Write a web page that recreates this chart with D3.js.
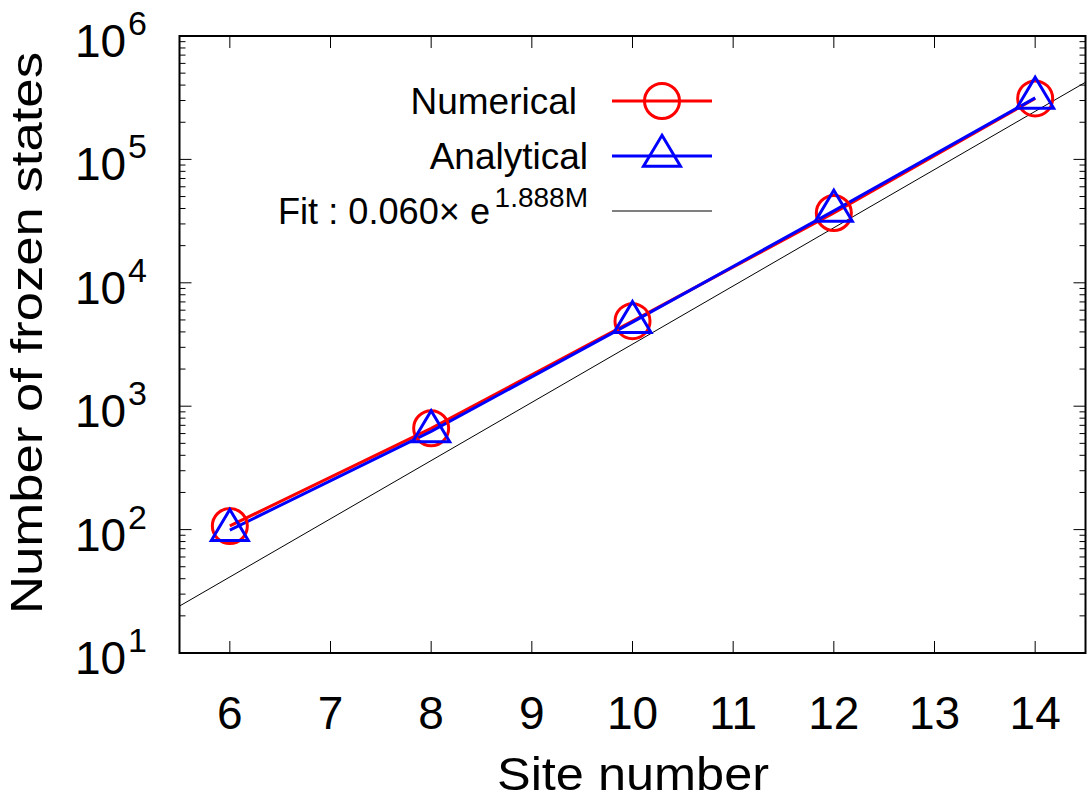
<!DOCTYPE html>
<html>
<head>
<meta charset="utf-8">
<script src="https://cdn.jsdelivr.net/npm/d3@7"></script>
<style>
  html, body { margin: 0; padding: 0; background: #fff; }
  svg { display: block; font-family: "Liberation Sans", Arial, Helvetica, sans-serif; }
</style>
</head>
<body>
<svg id="chart" width="1090" height="800"></svg>
<script>
// ---- data ----
const siteNumbers = [6, 8, 10, 12, 14];
const numerical = [107, 662, 4890, 36800, 312000];
const analytical = [99, 625, 4800, 38300, 315000];
const fitX = [5.5, 14.5];
const fitY = [24, 422000];
const xTicks = [6, 7, 8, 9, 10, 11, 12, 13, 14];
const yTickExponents = [1, 2, 3, 4, 5, 6];
const legendLabels = ["Numerical", "Analytical", "Fit : 0.060\u00d7 e"];
const fitSuperscript = "1.888M";
const xTitle = "Site number";
const yTitle = "Number of frozen states";

// ---- layout ----
const L = 179.5, R = 1085.5, T = 36, B = 653;
const svg = d3.select("#chart");
const x = d3.scaleLinear().domain([5.5, 14.5]).range([L, R]);
const y = d3.scaleLog().domain([10, 1e6]).range([B, T]);

// ticks
const tickG = svg.append("g").attr("stroke", "#000").attr("stroke-width", 1);
xTicks.forEach(t => {
  tickG.append("line").attr("x1", x(t)).attr("x2", x(t)).attr("y1", B).attr("y2", B - 12);
  tickG.append("line").attr("x1", x(t)).attr("x2", x(t)).attr("y1", T).attr("y2", T + 12);
});
yTickExponents.forEach(e => {
  const v = Math.pow(10, e);
  tickG.append("line").attr("x1", L).attr("x2", L + 12).attr("y1", y(v)).attr("y2", y(v));
  tickG.append("line").attr("x1", R).attr("x2", R - 12).attr("y1", y(v)).attr("y2", y(v));
  if (e < 6) {
    for (let m = 2; m <= 9; m++) {
      const mv = m * v;
      tickG.append("line").attr("x1", L).attr("x2", L + 6).attr("y1", y(mv)).attr("y2", y(mv));
      tickG.append("line").attr("x1", R).attr("x2", R - 6).attr("y1", y(mv)).attr("y2", y(mv));
    }
  }
});

// tick labels
svg.append("g").selectAll("text").data(xTicks).join("text")
  .attr("x", d => x(d)).attr("y", 729)
  .attr("text-anchor", "middle").attr("font-size", 46).attr("fill", "#000")
  .text(d => d);

const yl = svg.append("g").selectAll("text").data(yTickExponents).join("text")
  .attr("x", 147).attr("y", d => y(Math.pow(10, d)) + 21)
  .attr("text-anchor", "end").attr("font-size", 46).attr("fill", "#000");
yl.append("tspan").text("10");
yl.append("tspan").attr("font-size", 34).attr("dx", 2).attr("dy", -22).text(d => d);

// axis titles
svg.append("text").attr("x", 633).attr("y", 790).attr("text-anchor", "middle")
  .attr("font-size", 47).attr("textLength", 272).attr("lengthAdjust", "spacingAndGlyphs")
  .attr("fill", "#000").text(xTitle);
svg.append("text").attr("transform", "translate(42,333) rotate(-90)")
  .attr("text-anchor", "middle").attr("font-size", 45)
  .attr("textLength", 562).attr("lengthAdjust", "spacingAndGlyphs")
  .attr("fill", "#000").text(yTitle);

// clip
svg.append("clipPath").attr("id", "clip").append("rect")
  .attr("x", L).attr("y", T).attr("width", R - L).attr("height", B - T);
const plot = svg.append("g").attr("clip-path", "url(#clip)");

const line = d3.line().x(d => x(d[0])).y(d => y(d[1]));
const numData = siteNumbers.map((s, i) => [s, numerical[i]]);
const anaData = siteNumbers.map((s, i) => [s, analytical[i]]);

const triPath = (cx, cy) => {
  const h = 31, w = 37;
  return `M${cx},${cy - h * 2 / 3}L${cx + w / 2},${cy + h / 3}L${cx - w / 2},${cy + h / 3}Z`;
};

// numerical
plot.append("path").datum(numData).attr("d", line).attr("fill", "none")
  .attr("stroke", "#ff0000").attr("stroke-width", 3);
svg.append("g").selectAll("circle").data(numData).join("circle")
  .attr("cx", d => x(d[0])).attr("cy", d => y(d[1])).attr("r", 17.5)
  .attr("fill", "none").attr("stroke", "#ff0000").attr("stroke-width", 3);

// analytical
plot.append("path").datum(anaData).attr("d", line).attr("fill", "none")
  .attr("stroke", "#0000ff").attr("stroke-width", 3);
svg.append("g").selectAll("path.tri").data(anaData).join("path").attr("class", "tri")
  .attr("d", d => triPath(x(d[0]), y(d[1])))
  .attr("fill", "none").attr("stroke", "#0000ff").attr("stroke-width", 3);

// fit
plot.append("path").datum(fitX.map((v, i) => [v, fitY[i]])).attr("d", line)
  .attr("fill", "none").attr("stroke", "#000").attr("stroke-width", 1);

// legend
const lx1 = 612, lx2 = 712, lmid = 662;
const rows = [101, 156, 211];
svg.append("line").attr("x1", lx1).attr("x2", lx2).attr("y1", rows[0]).attr("y2", rows[0])
  .attr("stroke", "#ff0000").attr("stroke-width", 3);
svg.append("circle").attr("cx", lmid).attr("cy", rows[0]).attr("r", 17.5)
  .attr("fill", "none").attr("stroke", "#ff0000").attr("stroke-width", 3);
svg.append("line").attr("x1", lx1).attr("x2", lx2).attr("y1", rows[1]).attr("y2", rows[1])
  .attr("stroke", "#0000ff").attr("stroke-width", 3);
svg.append("path").attr("d", triPath(lmid, rows[1]))
  .attr("fill", "none").attr("stroke", "#0000ff").attr("stroke-width", 3);
svg.append("line").attr("x1", lx1).attr("x2", lx2).attr("y1", rows[2]).attr("y2", rows[2])
  .attr("stroke", "#000").attr("stroke-width", 1);

svg.append("text").attr("x", 577).attr("y", rows[0] + 13).attr("text-anchor", "end")
  .attr("font-size", 37).attr("fill", "#000").text(legendLabels[0]);
svg.append("text").attr("x", 588).attr("y", rows[1] + 13).attr("text-anchor", "end")
  .attr("font-size", 37).attr("fill", "#000").text(legendLabels[1]);
svg.append("text").attr("x", 278).attr("y", rows[2] + 13).attr("text-anchor", "start")
  .attr("font-size", 37).attr("textLength", 212).attr("lengthAdjust", "spacingAndGlyphs")
  .attr("fill", "#000").text(legendLabels[2]);
svg.append("text").attr("x", 588).attr("y", rows[2] - 4).attr("text-anchor", "end")
  .attr("font-size", 28).attr("fill", "#000").text(fitSuperscript);

// border
svg.append("rect").attr("x", L).attr("y", T).attr("width", R - L).attr("height", B - T)
  .attr("fill", "none").attr("stroke", "#000").attr("stroke-width", 2);
</script>
</body>
</html>
